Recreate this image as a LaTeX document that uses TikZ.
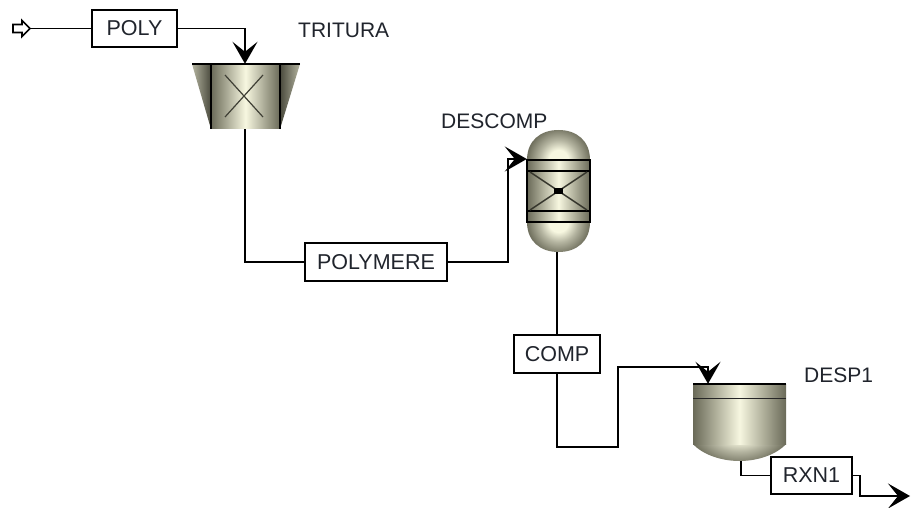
\documentclass[tikz,border=0pt]{standalone}
\usepackage{fontspec}
\setmainfont{Liberation Sans}
\usetikzlibrary{arrows.meta}
\definecolor{lt}{HTML}{F7F7E0}
\definecolor{md}{HTML}{B4B4A0}
\definecolor{dk}{HTML}{6A6A58}
\definecolor{txt}{HTML}{20242C}
\pgfdeclareradialshading{domeshade}{\pgfpoint{0bp}{0bp}}{color(0bp)=(lt);color(6bp)=(lt);color(12bp)=(md);color(20bp)=(dk);color(50bp)=(dk)}
\tikzset{
  x=1pt,y=-1pt,
  stream/.style={draw=black,line width=1.7pt},
  inlet/.style={stream,-{Stealth[length=22pt,width=25pt,inset=10pt]}},
  blockbox/.style={draw=black,line width=1.7pt,fill=white,inner sep=0pt,font=\fontsize{21.5}{24}\selectfont,text=txt},
  tag/.style={anchor=west,inner sep=0pt,font=\fontsize{21}{24}\selectfont,text=txt},
  port/.style={inner sep=0pt,minimum size=0pt},
  body/.style={left color=dk,right color=dk,middle color=lt,shading angle=90},
  outline/.style={draw=black,line width=1.7pt}
}
\begin{document}
\begin{tikzpicture}
\useasboundingbox (0,0) rectangle (915,508);
\fill[white] (0,0) rectangle (915,508);

% crusher TRITURA
\path[left color=md,right color=dk!70!black] (192,64) -- (211,64) -- (211,129) -- cycle;
\path[left color=dk!70!black,right color=md] (280,64) -- (300,64) -- (280,129) -- cycle;
\path[body] (211,64) rectangle (280,129);
\draw[outline] (211,64) -- (211,129) (280,64) -- (280,129);
\draw[line width=2.2pt] (192,64) -- (300,64);
\draw[dk!60!black,line width=1.2pt] (225,75) -- (263,117) (263,75) -- (225,117);
\node[port] (crushin) at (245,64) {};
\node[port] (crushout) at (245,129) {};

% reactor DESCOMP
\begin{scope}
\clip (527,160) .. controls (527,141) and (540,130) .. (558.5,130) .. controls (577,130) and (590,141) .. (590,160) -- cycle;
\path[shading=domeshade] (518,118) rectangle (599,202);
\end{scope}
\begin{scope}
\clip (527,222) .. controls (527,241) and (540,252) .. (558.5,252) .. controls (577,252) and (590,241) .. (590,222) -- cycle;
\path[shading=domeshade] (518,180) rectangle (599,264);
\end{scope}
\path[body] (527,160) rectangle (590,222);
\draw[outline] (527,160) rectangle (590,222);
\draw[outline] (527,171) -- (590,171) (527,211) -- (590,211);
\draw[line width=1.4pt,dk!50!black] (530,172) -- (587,210) (587,172) -- (530,210);
\fill[black] (554,188) rectangle (563,194);
\node[port] (reacin) at (527,159) {};
\node[port] (reacout) at (557,252) {};

% vessel DESP1
\begin{scope}
\clip (693,444) .. controls (703,455) and (722,461) .. (739.5,461) .. controls (757,461) and (776,455) .. (786,444) -- cycle;
\path[shading=domeshade] (675,385) rectangle (804,475);
\end{scope}
\path[body] (693,384) rectangle (786,444);
\draw[line width=2.2pt] (693,384) -- (786,384);
\draw[line width=1.7pt,black!85] (693,398.5) -- (786,398.5);
\node[port] (vesin) at (708,384) {};
\node[port] (vesout) at (741,461) {};

% labels
\node[tag] (ltrit) at (298,30) {TRITURA};
\node[tag] (ldesc) at (441,121) {DESCOMP};
\node[tag] (ldesp) at (804,375) {DESP1};

% blocks
\coordinate (feed) at (30,28.5);
\coordinate (prod) at (910,496);
\node[blockbox,minimum width=85pt,minimum height=37pt] (poly) at (134.5,28.5) {POLY};
\node[blockbox,minimum width=142pt,minimum height=38pt] (polymere) at (376,262) {POLYMERE};

% connectors
\draw[stream] (feed) -- (poly.west);
\draw[inlet] (poly.east) -| (crushin);
\draw[stream] (crushout) |- (polymere.west);
\draw[inlet] (polymere.east) -- (508,262) -- (508,159) -- (reacin);
\draw[stream] (reacout) -- (557,335);
\draw[inlet] (557,373) -- (557,447) -- (618,447) -- (618,367) -- (708,367) -- (vesin);

\node[blockbox,minimum width=86pt,minimum height=38pt] (comp) at (557,354) {COMP};
\node[blockbox,minimum width=81pt,minimum height=37pt] (rxn) at (811.5,475.5) {RXN1};
\draw[stream] (vesout) |- (rxn.west);
\draw[inlet] (rxn.east) -- (860,475.5) -- (860,496) -- (prod);

% feed arrow
\draw[line width=1.7pt,fill=white] (13,24.5) -- (22,24.5) -- (22,20.5) -- (30,28.5) -- (22,36.5) -- (22,32.5) -- (13,32.5) -- cycle;
\end{tikzpicture}
\end{document}
